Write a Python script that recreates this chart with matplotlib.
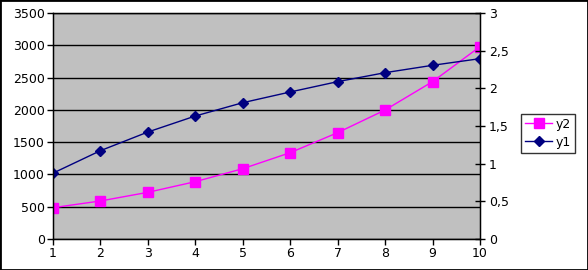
import matplotlib.pyplot as plt
from matplotlib.patches import Rectangle

x = [1, 2, 3, 4, 5, 6, 7, 8, 9, 10]
y1 = [1020, 1368, 1657, 1905, 2111, 2277, 2437, 2576, 2690, 2793]
y2 = [485, 589, 723, 888, 1089, 1337, 1647, 1998, 2437, 2979]
right_ticks = [0, 0.5, 1, 1.5, 2, 2.5, 3]
right_labels = ["0", "0,5", "1", "1,5", "2", "2,5", "3"]

plt.rcParams["font.family"] = "DejaVu Sans"
plt.rcParams["font.size"] = 9

fig = plt.figure(figsize=(5.88, 2.7), dpi=100)
ax = fig.add_axes([53 / 588, 1 - 239 / 270, 427 / 588, 226 / 270])
ax.set_facecolor("#c0c0c0")

l2, = ax.plot(x, y2, color="#ff00ff", lw=1, marker="s", ms=6.5, mec="#ff00ff", label="y2")
l1, = ax.plot(x, y1, color="#000080", lw=1, marker="D", ms=5, mec="#000080", label="y1")

ax.set_xlim(1, 10)
ax.set_ylim(0, 3500)
ax.set_xticks(x)
ax.set_yticks(range(0, 3501, 500))
ax.yaxis.grid(True, color="black", lw=1)
ax.set_axisbelow(True)
ax.tick_params(direction="out", length=4, width=1, colors="black", pad=2)
for s in ax.spines.values():
    s.set_color("black")
    s.set_linewidth(1)

ax2 = ax.twinx()
ax2.set_ylim(0, 3)
ax2.set_yticks(right_ticks)
ax2.set_yticklabels(right_labels)
ax2.tick_params(direction="inout", length=7, width=1, pad=3)

leg = fig.legend(handles=[l2, l1], loc="upper left", bbox_to_anchor=(521 / 588, 1 - 114 / 270),
                 frameon=True, fancybox=False, edgecolor="black", borderpad=0.3,
                 handlelength=2.2, handletextpad=0.3, labelspacing=0.4, borderaxespad=0)
leg.get_frame().set_linewidth(1)

fig.patches.append(Rectangle((0, 0), 1, 1, transform=fig.transFigure, fill=False,
                             edgecolor="black", lw=2))

fig.savefig("out.png", dpi=100)
